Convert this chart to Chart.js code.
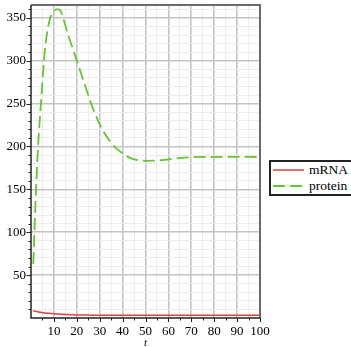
<!doctype html>
<html lang="en">
  <head>
    <meta charset="utf-8">
    <title>mRNA and protein</title>
    <style>
      * {
        margin: 0;
        padding: 0;
      }
      body {
        width: 351px;
        height: 347px;
        overflow: hidden;
        background: white;
        font-family: "Liberation Serif", "Times New Roman", Times, serif;
      }
      .chartBox {
        position: relative;
        width: 351px;
        height: 347px;
      }
      #legend {
        position: absolute;
        left: 269px;
        top: 160px;
        width: 100px;
        border: 2px solid #222;
        background: white;
      }
      #legend .row {
        height: 16px;
        line-height: 16px;
        font-size: 13.5px;
        color: #000;
        white-space: nowrap;
      }
      #legend svg {
        vertical-align: top;
        margin-left: 2px;
        margin-right: 5px;
      }
    </style>
  </head>
  <body>
    <div class="chartBox">
      <canvas id="myChart" width="351" height="347"></canvas>
      <div id="legend"></div>
    </div>
    <script src="https://cdn.jsdelivr.net/npm/chart.js/dist/chart.umd.min.js"></script>
    <script>
    // data
    const tValues = [1, 1.5, 2, 2.5, 3, 3.5, 4, 4.5, 5, 5.6, 6, 7, 8, 9, 10, 11, 12, 13, 14, 16, 18, 20,
                     22, 24, 26, 28, 30, 32, 34, 36, 38, 40, 43, 46, 50, 55, 60, 65, 70, 80, 90, 100];
    const mRNA = [8.5, 8.1, 7.8, 7.5, 7.2, 6.9, 6.7, 6.5, 6.3, 6.0, 5.9, 5.6, 5.4, 5.2, 5.0, 4.8, 4.6, 4.4, 4.3, 4.0, 3.8, 3.6,
                  3.5, 3.4, 3.35, 3.3, 3.25, 3.2, 3.2, 3.2, 3.2, 3.2, 3.2, 3.2, 3.2, 3.2, 3.2, 3.2, 3.2, 3.2, 3.2, 3.2];
    const protein = [63, 100, 138, 168, 196, 218, 238, 256, 276, 298, 311, 332, 346, 354, 358, 360, 360, 358, 350, 332, 316, 300,
                     284, 268, 252, 238, 226, 216, 208, 201, 196, 192, 187, 184.5, 183.3, 183.5, 185, 186.5, 187.5, 188, 188, 187.7];
    const seriesNames = ['mRNA', 'protein'];
    const xTickLabels = [10, 20, 30, 40, 50, 60, 70, 80, 90, 100];
    const yTickLabels = [50, 100, 150, 200, 250, 300, 350];

    const xMinorStep = 5;
    const yMinorStep = 10;

    const points = (ys) => tValues.map((t, i) => ({ x: t, y: ys[i] }));

    const data = {
      datasets: [{
        label: seriesNames[0],
        data: points(mRNA),
        borderColor: '#dc4040',
        borderWidth: 1.5,
        pointRadius: 0,
        cubicInterpolationMode: 'monotone'
      }, {
        label: seriesNames[1],
        data: points(protein),
        borderColor: '#66c433',
        borderWidth: 1.8,
        borderDash: [12, 5],
        pointRadius: 0,
        cubicInterpolationMode: 'monotone'
      }]
    };

    const isMajorX = (v) => xTickLabels.includes(v);
    const isMajorY = (v) => yTickLabels.includes(v);

    // frame + tick marks like the maple plot
    const framePlugin = {
      id: 'frame',
      afterDraw(chart) {
        const { ctx, chartArea: { top, bottom, left, right }, scales: { x, y } } = chart;
        ctx.save();
        // top and right border
        ctx.strokeStyle = '#6a6a6a';
        ctx.lineWidth = 2;
        ctx.beginPath();
        ctx.moveTo(left, top);
        ctx.lineTo(right, top);
        ctx.lineTo(right, bottom);
        ctx.stroke();
        // axes
        ctx.strokeStyle = '#222';
        ctx.lineWidth = 1.5;
        ctx.beginPath();
        ctx.moveTo(left, top);
        ctx.lineTo(left, bottom);
        ctx.lineTo(right, bottom);
        ctx.stroke();
        // ticks
        ctx.lineWidth = 1;
        ctx.beginPath();
        x.ticks.forEach(t => {
          const px = Math.round(x.getPixelForValue(t.value)) + 0.5;
          const len = isMajorX(t.value) ? 4 : 2.5;
          ctx.moveTo(px, bottom);
          ctx.lineTo(px, bottom + len);
        });
        y.ticks.forEach(t => {
          const py = Math.round(y.getPixelForValue(t.value)) + 0.5;
          const len = isMajorY(t.value) ? 4.5 : 2.5;
          ctx.moveTo(left, py);
          ctx.lineTo(left - len, py);
        });
        ctx.stroke();
        ctx.restore();
      }
    };

    const serif = "'Liberation Serif', 'Times New Roman', Times, serif";
    const tickFont = { family: serif, size: 13 };

    const config = {
      type: 'line',
      data,
      options: {
        animation: false,
        responsive: false,
        layout: {
          padding: { top: 5, right: 91, left: 0, bottom: 0 }
        },
        scales: {
          x: {
            type: 'linear',
            min: 0,
            max: 100,
            afterBuildTicks(scale) {
              const ticks = [];
              for (let v = xMinorStep; v <= 100; v += xMinorStep) ticks.push({ value: v });
              scale.ticks = ticks;
            },
            afterFit(scale) {
              scale.height = 29;
              scale.paddingLeft = 0;
              scale.paddingRight = 0;
            },
            ticks: {
              autoSkip: false,
              maxRotation: 0,
              padding: 6,
              color: '#000',
              font: tickFont,
              callback: (v) => isMajorX(v) ? String(v) : ''
            },
            grid: {
              drawTicks: false,
              color: (c) => isMajorX(c.tick.value) ? '#c4c4c4' : '#ececec',
              lineWidth: (c) => isMajorX(c.tick.value) ? 1.6 : 1
            },
            border: { display: false },
            title: {
              display: true,
              text: 't',
              color: '#000',
              padding: 0,
              font: { family: serif, size: 11, style: 'italic', lineHeight: 0.7 }
            }
          },
          y: {
            min: 0,
            max: 365,
            afterBuildTicks(scale) {
              const ticks = [];
              for (let v = yMinorStep; v <= 360; v += yMinorStep) ticks.push({ value: v });
              scale.ticks = ticks;
            },
            afterFit(scale) {
              scale.width = 31;
              scale.paddingTop = 0;
              scale.paddingBottom = 0;
            },
            ticks: {
              autoSkip: false,
              padding: 5,
              color: '#000',
              font: tickFont,
              callback: (v) => isMajorY(v) ? String(v) : ''
            },
            grid: {
              drawTicks: false,
              color: (c) => isMajorY(c.tick.value) ? '#c4c4c4' : '#ececec',
              lineWidth: (c) => isMajorY(c.tick.value) ? 1.6 : 1
            },
            border: { display: false }
          }
        },
        plugins: {
          legend: { display: false },
          tooltip: { enabled: false }
        }
      },
      plugins: [framePlugin]
    };

    const myChart = new Chart(document.getElementById('myChart'), config);

    // legend box on the right, built from the datasets
    const legend = document.getElementById('legend');
    myChart.data.datasets.forEach(ds => {
      const row = document.createElement('div');
      row.className = 'row';
      const dash = ds.borderDash ? ds.borderDash.join(',') : 'none';
      row.innerHTML =
        '<svg width="31" height="16"><line x1="0" y1="8" x2="31" y2="8" stroke="' + ds.borderColor +
        '" stroke-width="' + ds.borderWidth + '" stroke-dasharray="' + dash + '"/></svg>' +
        '<span></span>';
      row.querySelector('span').textContent = ds.label;
      legend.appendChild(row);
    });
    </script>
  </body>
</html>
